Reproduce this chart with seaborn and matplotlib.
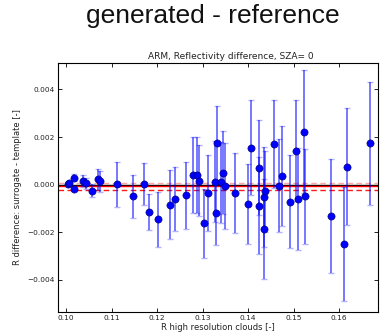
import numpy as np
import pandas as pd
import matplotlib
matplotlib.use("Agg")
import matplotlib.pyplot as plt
import seaborn as sns

# ---- data ----
r_highres = [0.1003, 0.1006, 0.1017, 0.1018, 0.1037, 0.1043, 0.1056, 0.1071, 0.1075,
             0.1111, 0.1147, 0.1171, 0.1182, 0.1203, 0.1229, 0.1240, 0.1264, 0.1278,
             0.1288, 0.1292, 0.1304, 0.1313, 0.1327, 0.1329, 0.1331, 0.1341, 0.1344,
             0.1349, 0.1372, 0.1399, 0.1406, 0.1423, 0.1425, 0.1434, 0.1435, 0.1437,
             0.1457, 0.1469, 0.1474, 0.1492, 0.1505, 0.1509, 0.1524, 0.1525, 0.1583,
             0.1612, 0.1618, 0.1669]
r_diff = [0.00001, 0.00007, 0.00030, -0.00018, 0.00017, 0.00005, -0.00025, 0.00022, 0.00014,
          0.00001, -0.00049, 0.00003, -0.00114, -0.00146, -0.00084, -0.00060, -0.00045, 0.00040,
          0.00042, 0.00017, -0.00162, -0.00036, 0.00013, -0.00118, 0.00174, 0.00010, 0.00051,
          -0.00005, -0.00035, -0.00080, 0.00156, -0.00088, 0.00072, -0.00053, -0.00185, -0.00028,
          0.00170, -0.00004, 0.00036, -0.00071, 0.00142, -0.00060, 0.00223, -0.00049, -0.00131,
          -0.00248, 0.00075, 0.00174]
r_err = [0.00005, 0.00005, 0.00014, 0.00008, 0.00025, 0.00025, 0.00028, 0.00044, 0.00044,
         0.00095, 0.00090, 0.00087, 0.00075, 0.00114, 0.00145, 0.00134, 0.00142, 0.00160,
         0.00160, 0.00150, 0.00145, 0.00160, 0.00170, 0.00134, 0.00158, 0.00170, 0.00176,
         0.00180, 0.00167, 0.00168, 0.00200, 0.00205, 0.00200, 0.00210, 0.00210, 0.00170,
         0.00185, 0.00195, 0.00210, 0.00195, 0.00212, 0.00216, 0.00257, 0.00200, 0.00240,
         0.00240, 0.00245, 0.00258]
mean_diff = -0.00007
band_upper = 0.00007
band_lower = -0.00021
x_ticks = [0.10, 0.11, 0.12, 0.13, 0.14, 0.15, 0.16]
x_tick_labels = ["0.10", "0.11", "0.12", "0.13", "0.14", "0.15", "0.16"]
y_ticks = [-0.004, -0.002, 0.0, 0.002, 0.004]
y_tick_labels = ["\u22120.004", "\u22120.002", "0.000", "0.002", "0.004"]

df = pd.DataFrame({"x": r_highres, "y": r_diff, "err": r_err})

sns.set_theme(style="ticks")
plt.rcParams["font.family"] = ["DejaVu Sans"]
plt.rcParams.update({
    "xtick.direction": "in", "ytick.direction": "in",
    "xtick.top": True, "ytick.right": True,
    "xtick.major.size": 3, "ytick.major.size": 3,
    "xtick.major.width": 0.6, "ytick.major.width": 0.6,
    "axes.edgecolor": "black", "axes.linewidth": 0.8,
})

fig = plt.figure(figsize=(3.8, 3.34), dpi=100)
ax = fig.add_axes([57.5 / 380, 1 - 312 / 334, (378 - 57.5) / 380, (312 - 63) / 334])

ax.axhline(0.0, color="black", lw=1.0, zorder=1)
ax.axhline(mean_diff, color="red", lw=1.0, zorder=1)
ax.axhline(band_upper, color="red", lw=1.0, ls=(0, (4, 2.5)), alpha=0.35, zorder=1)
ax.axhline(band_lower, color="red", lw=1.0, ls=(0, (4, 2.5)), alpha=0.9, zorder=1)

cont = ax.errorbar(df["x"], df["y"], yerr=df["err"], fmt="none", ecolor="blue",
                   elinewidth=1.2, capsize=2.5, capthick=1.0, zorder=2)
for bar in cont[2]:
    bar.set_alpha(0.62)
for cap in cont[1]:
    cap.set_alpha(0.3)
sns.scatterplot(data=df, x="x", y="y", ax=ax, color="blue", s=27,
                edgecolor="#000066", linewidth=0.4, zorder=3)

ax.set_xlim(0.0981, 0.16857)
ax.set_ylim(-0.00535, 0.00511)
ax.set_xticks(x_ticks)
ax.set_xticklabels(x_tick_labels)
ax.set_yticks(y_ticks)
ax.set_yticklabels(y_tick_labels)
ax.tick_params(labelsize=5.3, pad=2, colors="black", labelcolor="#222222")

ax.set_xlabel("R high resolution clouds [-]", fontsize=6, labelpad=1.5, color="#222222")
ax.set_ylabel("R difference: surrogate - template [-]", fontsize=6, labelpad=4, color="#222222")
ax.set_title("ARM, Reflectivity difference, SZA= 0", fontsize=6.5, pad=3, x=0.542, color="#222222")

fig.text(0.56, 1 - 23 / 334, "generated - reference", fontsize=19, ha="center",
         va="baseline", family=["Liberation Sans", "DejaVu Sans"], color="#111111")

fig.savefig("out.png", dpi=100)
